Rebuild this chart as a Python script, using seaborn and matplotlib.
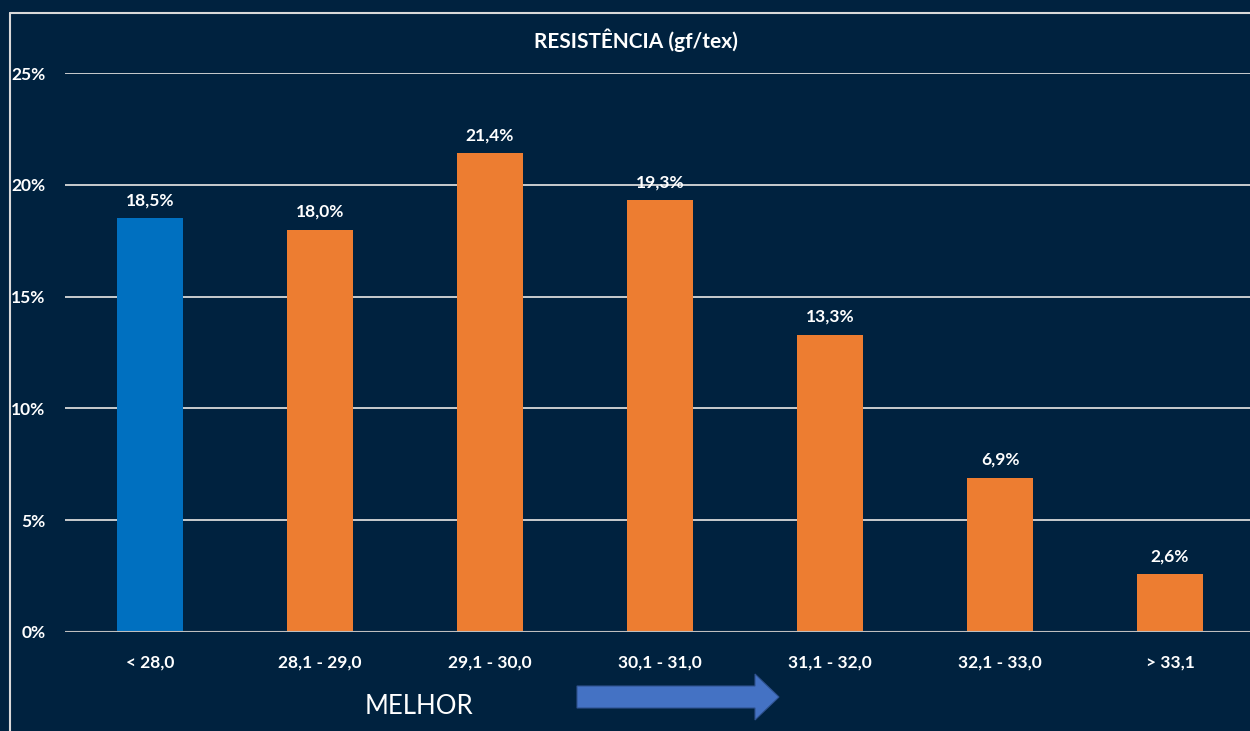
import matplotlib
matplotlib.use("Agg")
import matplotlib.pyplot as plt
import seaborn as sns
import pandas as pd
from matplotlib.lines import Line2D
from matplotlib.patches import FancyArrow

# data
categories = ["< 28,0", "28,1 - 29,0", "29,1 - 30,0", "30,1 - 31,0",
              "31,1 - 32,0", "32,1 - 33,0", "> 33,1"]
values = [18.5, 18.0, 21.4, 19.3, 13.3, 6.9, 2.6]
bar_colors = ["#0070C0"] + ["#ED7D31"] * 6
title = "RESISTÊNCIA (gf/tex)"
y_ticks = [0, 5, 10, 15, 20, 25]

bg = "#00223F"
sns.set_theme(style="dark")
plt.rcParams["font.family"] = ["Lato", "DejaVu Sans"]

W, H = 1250, 731
fig = plt.figure(figsize=(W / 100, H / 100), dpi=100, facecolor=bg)
# axes in pixel terms: left 65, right 1250, y0 at 632, y25 at 73
ax = fig.add_axes([65 / W, (H - 632) / H, (W - 65) / W, (632 - 73) / H])
ax.set_facecolor(bg)

df = pd.DataFrame({"cat": categories, "val": values})
sns.barplot(data=df, x="cat", y="val", hue="cat", palette=bar_colors,
            width=0.39, legend=False, ax=ax, saturation=1, linewidth=0)

ax.set_xlim(-0.5, 6.5 - 5 / 170)
ax.set_ylim(0, 25)
ax.set_yticks(y_ticks)
ax.set_yticklabels([f"{t}%" for t in y_ticks])
ax.grid(False)
for t in y_ticks[1:]:
    ax.axhline(t, color="#D9D9D9", lw=1.3, zorder=0)
ax.axhline(0, color="#BFBFBF", lw=1.5, zorder=3)
for s in ax.spines.values():
    s.set_visible(False)

ax.tick_params(axis="both", length=0, colors="white")
ax.tick_params(axis="y", pad=14)
ax.tick_params(axis="x", pad=16)
for lab in ax.get_yticklabels() + ax.get_xticklabels():
    lab.set_fontsize(12.5)
    lab.set_fontweight("bold")
    lab.set_color("white")
ax.set_xlabel("")
ax.set_ylabel("")

for i, v in enumerate(values):
    ax.annotate(f"{v:.1f}%".replace(".", ","), (i, v), xytext=(0, 7),
                textcoords="offset points", ha="center", va="bottom",
                fontsize=12.5, fontweight="bold", color="white")

fig.text(636 / W, 1 - 40 / H, title, ha="center", va="center",
         fontsize=15, fontweight="bold", color="white")

fig.text(365 / W, 1 - 706 / H, "MELHOR", ha="left", va="center",
         fontsize=18.5, color="white")

# arrow
arrow = FancyArrow(577, H - 697, 178, 0, width=22, head_width=46,
                   head_length=24, length_includes_head=False,
                   facecolor="#4472C4", edgecolor="#2F528F", lw=0.8,
                   transform=None)
fig.patches.append(arrow)

# border lines
fig.add_artist(Line2D([10 / W, 1], [1 - 13 / H, 1 - 13 / H],
                      transform=fig.transFigure, color="#D9D9D9", lw=1.5))
fig.add_artist(Line2D([10 / W, 10 / W], [0, 1 - 13 / H],
                      transform=fig.transFigure, color="#D9D9D9", lw=1.5))

fig.savefig("out.png", dpi=100, facecolor=bg)
